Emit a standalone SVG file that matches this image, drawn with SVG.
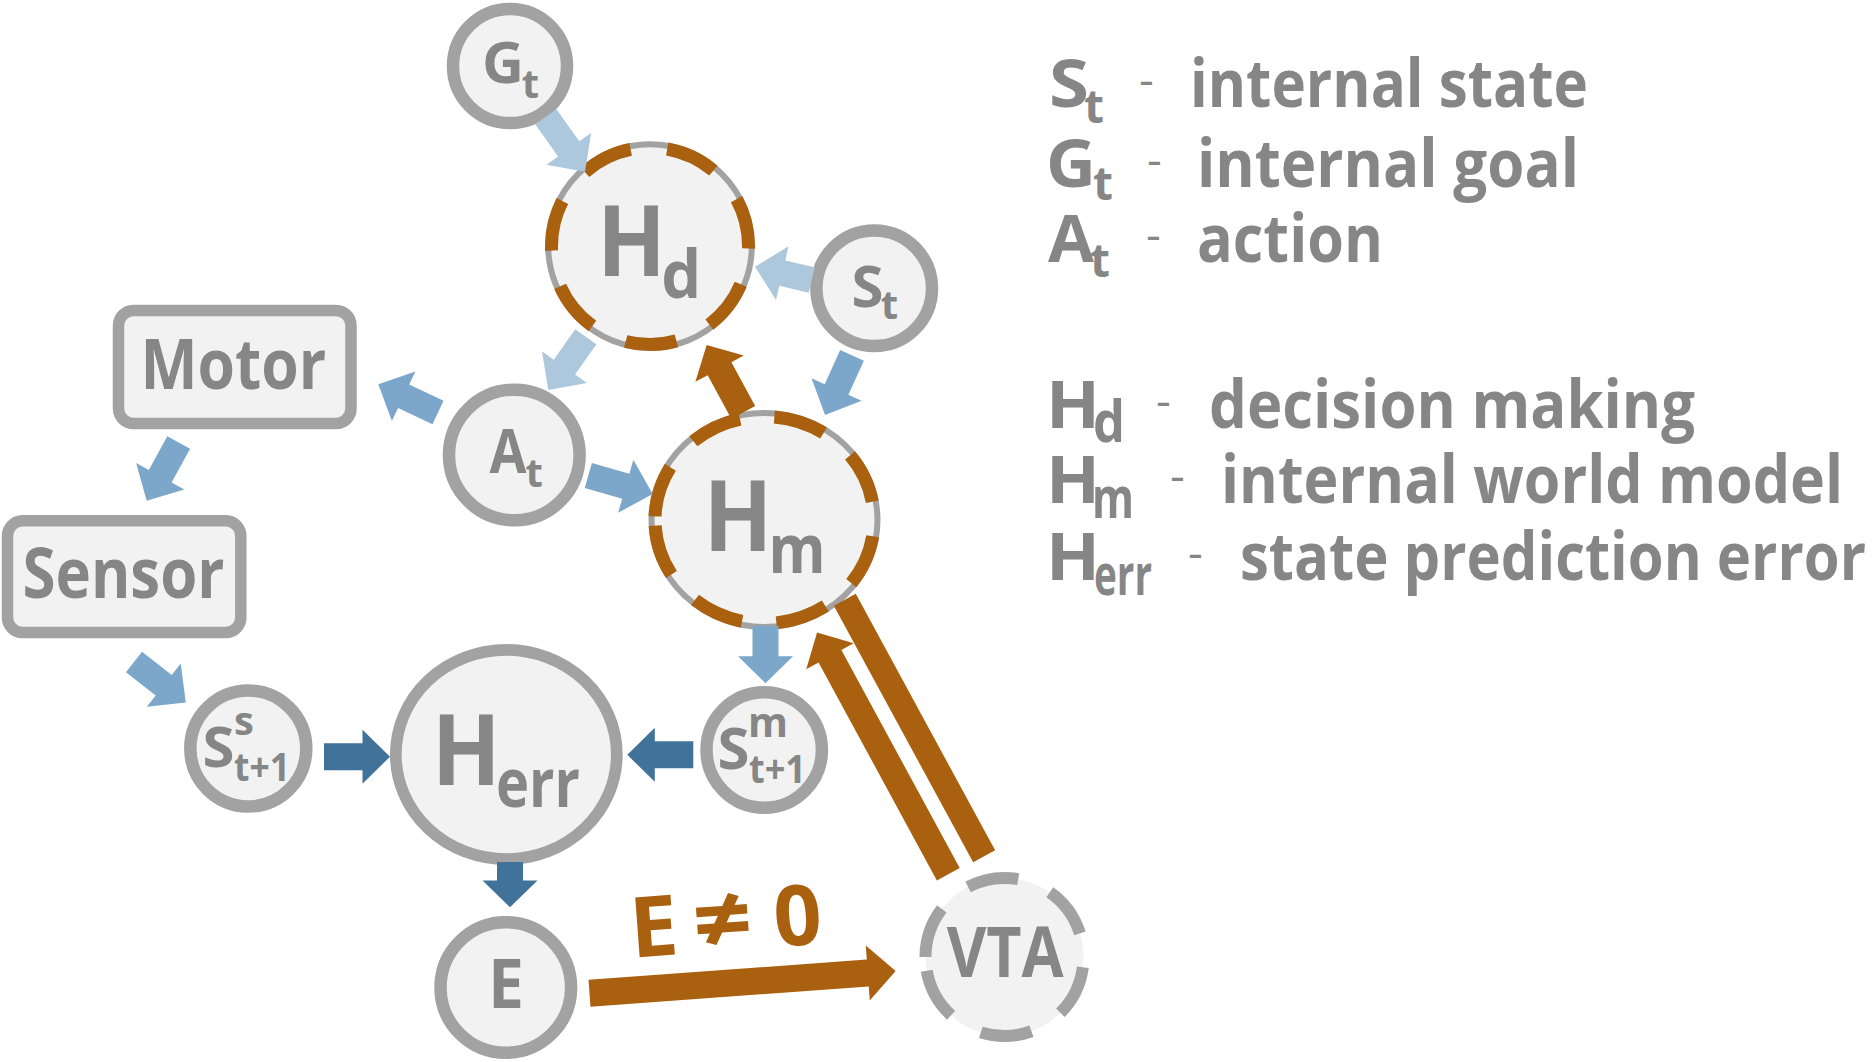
<svg xmlns="http://www.w3.org/2000/svg" width="1874" height="1062" viewBox="0 0 1874 1062">
<style>
.ring{fill:#f2f2f2;stroke:#a2a2a2;stroke-width:12.5}
.box{fill:#f2f2f2;stroke:#a2a2a2;stroke-width:11.5}
.thin{fill:#f2f2f2;stroke:#a2a2a2;stroke-width:6}
.odash{fill:none;stroke:#a9610f;stroke-width:13}
.vta{fill:#f2f2f2;stroke:#a2a2a2;stroke-width:12}
.lbl{font-family:"Open Sans","Liberation Sans",sans-serif;font-weight:700;fill:#868686}
.hy{font-family:"Open Sans","Liberation Sans",sans-serif;font-weight:400;fill:#868686}
.olbl{font-family:"Open Sans","Liberation Sans",sans-serif;font-weight:700;fill:#a9610f}
.lb{fill:#adc8dd}.mb{fill:#7da7ca}.db{fill:#40729a}.or{fill:#a9610f}
</style>
<rect width="1874" height="1062" fill="#ffffff"/>

<g id="node-Gt"><circle class="ring" cx="510" cy="66" r="57"/><text class="lbl" x="482" y="83.3" font-size="58">G</text><text class="lbl" x="521.7" y="97.7" font-size="40">t</text></g>
<g id="node-St"><circle class="ring" cx="874.2" cy="288.3" r="57.8"/><text class="lbl" x="851.5" y="306.7" font-size="58">S</text><text class="lbl" x="880.7" y="319.3" font-size="40">t</text></g>
<g id="node-Hd"><circle class="thin" cx="650" cy="246" r="101.8"/><circle class="odash" cx="650" cy="246" r="98.5" pathLength="360" stroke-dasharray="30 21.43" stroke-dashoffset="28.5"/><text class="lbl" x="597" y="276" font-size="99" textLength="69" lengthAdjust="spacingAndGlyphs">H</text><text class="lbl" x="661.3" y="298.3" font-size="67" textLength="40" lengthAdjust="spacingAndGlyphs">d</text></g>
<g id="node-At"><circle class="ring" cx="514.3" cy="455" r="65.3"/><text class="lbl" x="489.5" y="473.3" font-size="60" textLength="37" lengthAdjust="spacingAndGlyphs">A</text><text class="lbl" x="525.5" y="486.7" font-size="40">t</text></g>
<g id="node-Hm"><ellipse class="thin" cx="764.5" cy="520" rx="113" ry="107"/><ellipse class="odash" cx="764.5" cy="520" rx="109.5" ry="103.5" transform="rotate(180 764.5 520)" pathLength="360" stroke-dasharray="28 18.7" stroke-dashoffset="-2"/><text class="lbl" x="703.5" y="551" font-size="99" textLength="69" lengthAdjust="spacingAndGlyphs">H</text><text class="lbl" x="768.5" y="573.3" font-size="68" textLength="57" lengthAdjust="spacingAndGlyphs">m</text></g>
<g id="node-Motor"><rect class="box" x="118.5" y="310.5" width="232.5" height="113" rx="15"/><text class="lbl" x="140.4" y="389" font-size="70" textLength="186" lengthAdjust="spacingAndGlyphs">Motor</text></g>
<g id="node-Sensor"><rect class="box" x="7.5" y="520.8" width="233.3" height="111.7" rx="15"/><text class="lbl" x="22.5" y="598.3" font-size="70" textLength="202" lengthAdjust="spacingAndGlyphs">Sensor</text></g>
<g id="node-Ss"><circle class="ring" cx="248.3" cy="748.5" r="58"/><text class="lbl" x="202.5" y="766.7" font-size="56" textLength="32" lengthAdjust="spacingAndGlyphs">S</text><text class="lbl" x="234" y="735" font-size="40">s</text><text class="lbl" x="234" y="780.7" font-size="40" textLength="56" lengthAdjust="spacingAndGlyphs">t+1</text></g>
<g id="node-Herr"><ellipse class="ring" cx="506.3" cy="754.5" rx="110.5" ry="104.7" style="stroke-width:11.7"/><text class="lbl" x="431.8" y="785" font-size="99" textLength="69" lengthAdjust="spacingAndGlyphs">H</text><text class="lbl" x="495.9" y="807.3" font-size="68" textLength="84" lengthAdjust="spacingAndGlyphs">err</text></g>
<g id="node-Sm"><circle class="ring" cx="764.2" cy="750" r="57.7"/><text class="lbl" x="717.5" y="769.3" font-size="58" textLength="32" lengthAdjust="spacingAndGlyphs">S</text><text class="lbl" x="748" y="736.7" font-size="42" textLength="40" lengthAdjust="spacingAndGlyphs">m</text><text class="lbl" x="749" y="782.7" font-size="39" textLength="57" lengthAdjust="spacingAndGlyphs">t+1</text></g>
<g id="node-E"><circle class="ring" cx="505.8" cy="987.5" r="65.3"/><text class="lbl" x="488" y="1008.3" font-size="68" textLength="36" lengthAdjust="spacingAndGlyphs">E</text></g>
<g id="node-VTA"><circle class="vta" cx="1004.5" cy="957" r="79" transform="rotate(180 1004.5 957)" pathLength="360" stroke-dasharray="37.5 25"/><text class="lbl" x="946.7" y="977.3" font-size="70" textLength="117" lengthAdjust="spacingAndGlyphs">VTA</text></g>

<g id="connectors">
<polygon class="lb" transform="translate(545.8,116.7) rotate(54.5)" points="0,-13 39.5,-13 39.5,-27.5 67.5,0 39.5,27.5 39.5,13 0,13"/>
<polygon class="lb" transform="translate(811.7,280) rotate(193.2)" points="0,-13 30.2,-13 30.2,-27.5 58.2,0 30.2,27.5 30.2,13 0,13"/>
<polygon class="lb" transform="translate(585.8,336.7) rotate(125.1)" points="0,-13 37.2,-13 37.2,-27.5 65.2,0 37.2,27.5 37.2,13 0,13"/>
<polygon class="mb" transform="translate(852,355.3) rotate(114.3)" points="0,-13 37.5,-13 37.5,-27.5 65.5,0 37.5,27.5 37.5,13 0,13"/>
<polygon class="mb" transform="translate(438,412.5) rotate(205.3)" points="0,-13 38,-13 38,-27.5 66,0 38,27.5 38,13 0,13"/>
<polygon class="mb" transform="translate(588.3,475.5) rotate(16)" points="0,-13 39,-13 39,-27.5 67,0 39,27.5 39,13 0,13"/>
<polygon class="mb" transform="translate(178.7,442.5) rotate(118.8)" points="0,-13 38.4,-13 38.4,-27.5 66.4,0 38.4,27.5 38.4,13 0,13"/>
<polygon class="mb" transform="translate(134,661.9) rotate(38.1)" points="0,-13 37.8,-13 37.8,-27.5 65.8,0 37.8,27.5 37.8,13 0,13"/>
<polygon class="mb" transform="translate(765.5,626) rotate(90)" points="0,-13 30.3,-13 30.3,-27.5 57.3,0 30.3,27.5 30.3,13 0,13"/>
<polygon class="db" transform="translate(324,756.7)" points="0,-13.5 38.5,-13.5 38.5,-27 66,0 38.5,27 38.5,13.5 0,13.5"/>
<polygon class="db" transform="translate(693.3,754.8) rotate(180)" points="0,-13.5 38.5,-13.5 38.5,-27 66,0 38.5,27 38.5,13.5 0,13.5"/>
<polygon class="db" transform="translate(510,862) rotate(90)" points="0,-13 18.6,-13 18.6,-27.5 45.3,0 18.6,27.5 18.6,13 0,13"/>
<polygon class="or" transform="translate(743.3,412.5) rotate(241.5)" points="0,-13.5 49.8,-13.5 49.8,-27.5 76.8,0 49.8,27.5 49.8,13.5 0,13.5"/>
<polygon class="or" transform="translate(589.5,993.3) rotate(-4.17)" points="0,-13.5 279,-13.5 279,-27.5 307,0 279,27.5 279,13.5 0,13.5"/>
<polygon class="or" transform="translate(948.3,874.2) rotate(241.5)" points="0,-13 248,-13 248,-27 275,0 248,27 248,13 0,13"/>
<rect class="or" transform="translate(844.8,599.7) rotate(61.5)" x="0" y="-12.5" width="292" height="25"/>
<g transform="translate(641,957) rotate(-4.2)"><text class="olbl" x="-9" y="0" font-size="84" textLength="48" lengthAdjust="spacingAndGlyphs">E</text><text class="olbl" x="54" y="0" font-size="90" textLength="60" lengthAdjust="spacingAndGlyphs">≠</text><text class="olbl" x="135" y="0" font-size="84" textLength="48" lengthAdjust="spacingAndGlyphs">0</text></g>
</g>

<g id="legend">
<text class="lbl" x="1049" y="107" font-size="67" textLength="40" lengthAdjust="spacingAndGlyphs">S</text><text class="lbl" x="1084" y="123.3" font-size="46">t</text><text class="hy" x="1139" y="96" font-size="46">-</text><text class="lbl" x="1190" y="107" font-size="67" textLength="398" lengthAdjust="spacingAndGlyphs">internal state</text>
<text class="lbl" x="1046" y="186.5" font-size="67" textLength="50" lengthAdjust="spacingAndGlyphs">G</text><text class="lbl" x="1093" y="200" font-size="46">t</text><text class="hy" x="1147" y="175.5" font-size="46">-</text><text class="lbl" x="1197" y="186.5" font-size="67" textLength="382" lengthAdjust="spacingAndGlyphs">internal goal</text>
<text class="lbl" x="1048" y="261.7" font-size="67" textLength="46" lengthAdjust="spacingAndGlyphs">A</text><text class="lbl" x="1090" y="276.7" font-size="46">t</text><text class="hy" x="1146" y="250.7" font-size="46">-</text><text class="lbl" x="1197" y="261.7" font-size="67" textLength="186" lengthAdjust="spacingAndGlyphs">action</text>
<text class="lbl" x="1046" y="428" font-size="67" textLength="54" lengthAdjust="spacingAndGlyphs">H</text><text class="lbl" x="1093" y="441.7" font-size="58" textLength="32" lengthAdjust="spacingAndGlyphs">d</text><text class="hy" x="1156" y="417" font-size="46">-</text><text class="lbl" x="1209" y="428" font-size="67" textLength="486" lengthAdjust="spacingAndGlyphs">decision making</text>
<text class="lbl" x="1046" y="503" font-size="67" textLength="54" lengthAdjust="spacingAndGlyphs">H</text><text class="lbl" x="1092" y="518.3" font-size="58" textLength="42" lengthAdjust="spacingAndGlyphs">m</text><text class="hy" x="1170" y="492" font-size="46">-</text><text class="lbl" x="1221" y="503" font-size="67" textLength="622" lengthAdjust="spacingAndGlyphs">internal world model</text>
<text class="lbl" x="1046" y="580" font-size="67" textLength="54" lengthAdjust="spacingAndGlyphs">H</text><text class="lbl" x="1094" y="595" font-size="58" textLength="58" lengthAdjust="spacingAndGlyphs">err</text><text class="hy" x="1188" y="569" font-size="46">-</text><text class="lbl" x="1240" y="580" font-size="67" textLength="626" lengthAdjust="spacingAndGlyphs">state prediction error</text>
</g>
</svg>
